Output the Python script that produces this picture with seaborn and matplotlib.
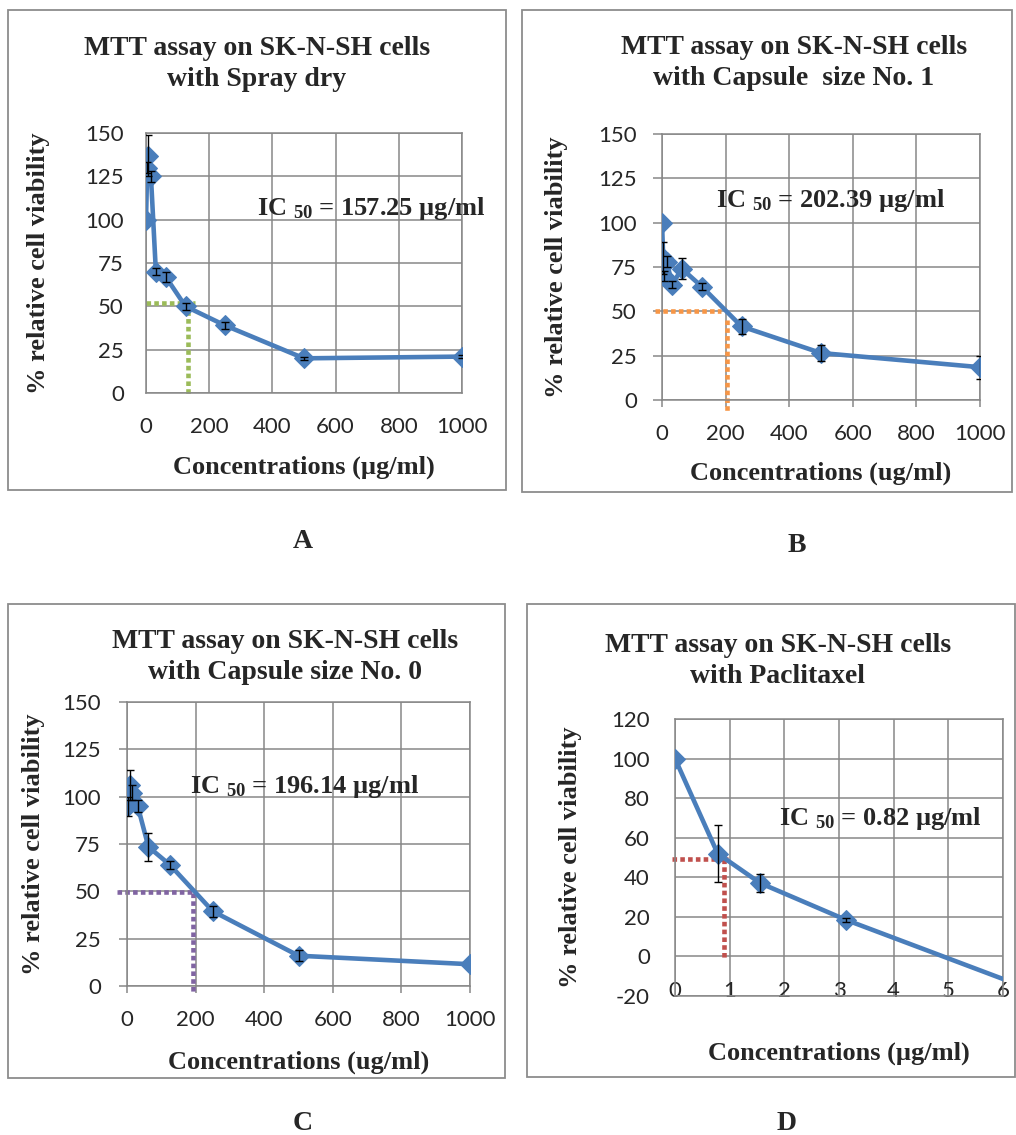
import numpy as np
import matplotlib
matplotlib.use("Agg")
import matplotlib.pyplot as plt
import seaborn as sns
from matplotlib.patches import Rectangle

W, H = 1016, 1135

# data
conc = [0, 3.9, 7.8, 15.6, 31.25, 62.5, 125, 250, 500, 1000]
spray_dry = [100, 130, 137, 125, 70, 67, 50, 39, 20, 21]
spray_dry_err = [0, 3, 12, 3, 2, 3, 2, 2, 1, 1]
capsule_1 = [100, 80, 70, 78, 65, 74, 64, 41.5, 26.5, 18.5]
capsule_1_err = [0, 9, 3, 3, 2, 6, 2, 4, 4.5, 6.5]
capsule_0 = [100, 95, 106, 102, 95, 73.5, 64, 39.5, 16, 11.5]
capsule_0_err = [0, 5, 8, 4, 3, 7.5, 2, 3, 3, 0]
conc_ptx = [0, 0.78, 1.5625, 3.125, 6.25]
paclitaxel = [100, 52, 37, 18.5, -14]
paclitaxel_err = [0, 14.5, 4.5, 1, 0]

# IC50 guide lines: (hline x0, x1, y), (vline x, y0, y1)
guide_a = [(-1, 155, 52), (134, 52, -2)]
guide_b = [(-23, 187, 50.3), (205, 45, -6)]
guide_c = [(-29, 189, 49.8), (191, 49, -4)]
guide_d = [(-0.05, 0.97, 49), (0.9, 49, -1)]

sns.set_style("white")
plt.rcParams["font.family"] = ["Lato", "DejaVu Sans"]
plt.rcParams["axes.unicode_minus"] = False
plt.rcParams["mathtext.fontset"] = "custom"
plt.rcParams["mathtext.rm"] = "Liberation Serif:bold"
plt.rcParams["mathtext.it"] = "Liberation Serif:bold"
plt.rcParams["mathtext.bf"] = "Liberation Serif:bold"

BLUE = "#4A7EBB"
GRID = "#878787"
SERIF = "Liberation Serif"

panels = [
    dict(x=conc, y=spray_dry, err=spray_dry_err, guide=guide_a, gcol="#9BBB59",
         ax=(146, 133, 462, 393), box=(8, 10, 506, 490),
         title="MTT assay on SK-N-SH cells\nwith Spray dry", tpos=(257, 64),
         xlim=(0, 1000), xticks=[0, 200, 400, 600, 800, 1000],
         ylim=(0, 150), yticks=[0, 25, 50, 75, 100, 125, 150],
         xlen=0, xpad=17, ylen=0, ypad=16,
         xlabel="Concentrations (µg/ml)", xly=467, ylx=38,
         ic="IC $_{50}$ = 157.25 µg/ml", icpos=(371, 208),
         letter="A", lpos=(303, 541)),
    dict(x=conc, y=capsule_1, err=capsule_1_err, guide=guide_b, gcol="#F79646",
         ax=(662, 134, 980, 400), box=(522, 10, 1012, 492),
         title="MTT assay on SK-N-SH cells\nwith Capsule  size No. 1", tpos=(794, 63),
         xlim=(0, 1000), xticks=[0, 200, 400, 600, 800, 1000],
         ylim=(0, 150), yticks=[0, 25, 50, 75, 100, 125, 150],
         xlen=5, xpad=12, ylen=6.5, ypad=11.5,
         xlabel="Concentrations (ug/ml)", xly=473, ylx=557,
         ic="IC $_{50}$ = 202.39 µg/ml", icpos=(831, 200),
         letter="B", lpos=(797, 545)),
    dict(x=conc, y=capsule_0, err=capsule_0_err, guide=guide_c, gcol="#8064A2",
         ax=(127, 702, 470, 986), box=(8, 604, 505, 1078),
         title="MTT assay on SK-N-SH cells\nwith Capsule size No. 0", tpos=(285, 657),
         xlim=(0, 1000), xticks=[0, 200, 400, 600, 800, 1000],
         ylim=(0, 150), yticks=[0, 25, 50, 75, 100, 125, 150],
         xlen=5, xpad=12, ylen=5.8, ypad=13,
         xlabel="Concentrations (ug/ml)", xly=1062, ylx=33,
         ic="IC $_{50}$ = 196.14 µg/ml", icpos=(305, 786),
         letter="C", lpos=(303, 1123)),
    dict(x=conc_ptx, y=paclitaxel, err=paclitaxel_err, guide=guide_d, gcol="#C0504D",
         ax=(675, 719, 1003, 996), box=(527, 604, 1015, 1077),
         title="MTT assay on SK-N-SH cells\nwith Paclitaxel", tpos=(778, 661),
         xlim=(0, 6), xticks=[0, 1, 2, 3, 4, 5, 6],
         ylim=(-20, 120), yticks=[-20, 0, 20, 40, 60, 80, 100, 120],
         xlen=0, xpad=-10.5, ylen=0, ypad=18,
         xlabel="Concentrations (µg/ml)", xly=1053, ylx=570,
         ic="IC $_{50}$ = 0.82 µg/ml", icpos=(880, 818),
         letter="D", lpos=(787, 1123)),
]

fig = plt.figure(figsize=(W / 100, H / 100), dpi=100)

for p in panels:
    l, t, r, b = p["ax"]
    ax = fig.add_axes([l / W, 1 - b / H, (r - l) / W, (b - t) / H])

    bl, bt, br, bb = p["box"]
    fig.add_artist(Rectangle((bl / W, 1 - bb / H), (br - bl) / W, (bb - bt) / H,
                             transform=fig.transFigure, fill=False,
                             ec="#8c8c8c", lw=1.3))

    # IC50 dotted guides
    (hx0, hx1, hy), (vx, vy0, vy1) = p["guide"]
    ax.plot([hx0, hx1], [hy, hy], color=p["gcol"], lw=3.3, ls=(0, (1, 0.7)),
            clip_on=False, zorder=2)
    ax.plot([vx, vx], [vy0, vy1], color=p["gcol"], lw=3.3, ls=(0, (1, 0.7)),
            clip_on=False, zorder=2)

    sns.lineplot(x=p["x"], y=p["y"], ax=ax, color=BLUE, lw=3.3, marker="D",
                 markersize=10, markeredgecolor=BLUE, errorbar=None, zorder=4)
    xs, ys, es = map(np.asarray, (p["x"], p["y"], p["err"]))
    m = es > 0
    ax.errorbar(xs[m], ys[m], yerr=es[m], fmt="none", ecolor="black",
                elinewidth=1, capsize=3, capthick=1, zorder=5)

    ax.set_xlim(*p["xlim"])
    ax.set_ylim(*p["ylim"])
    ax.set_xticks(p["xticks"])
    ax.set_yticks(p["yticks"])
    ax.grid(True, color=GRID, lw=1.1)
    ax.set_axisbelow(True)
    for s in ax.spines.values():
        s.set_color(GRID)
        s.set_linewidth(1.1)
    ax.tick_params(axis="x", length=p["xlen"], pad=p["xpad"], color=GRID,
                   width=1.1, labelsize=16, direction="out", bottom=True)
    ax.tick_params(axis="y", length=p["ylen"], pad=p["ypad"], color=GRID,
                   width=1.1, labelsize=16, direction="out", left=True)

    ax.set_xlabel(p["xlabel"], family=SERIF, weight="bold", fontsize=19)
    ax.xaxis.set_label_coords(0.5, (b - p["xly"]) / (b - t))
    ax.xaxis.label.set_va("center")
    ax.set_ylabel("% relative cell viability", family=SERIF, weight="bold",
                  fontsize=19)
    ax.yaxis.set_label_coords((p["ylx"] - l) / (r - l), 0.5)
    ax.yaxis.label.set_va("center")

    tx, ty = p["tpos"]
    fig.text(tx / W, 1 - ty / H, p["title"], ha="center", va="center",
             family=SERIF, weight="bold", fontsize=20, linespacing=1.3)
    ix, iy = p["icpos"]
    fig.text(ix / W, 1 - iy / H, p["ic"], ha="center", va="center",
             family=SERIF, weight="bold", fontsize=19)
    lx, ly = p["lpos"]
    fig.text(lx / W, 1 - ly / H, p["letter"], ha="center", va="center",
             family=SERIF, weight="bold", fontsize=20)

fig.savefig("out.png", dpi=100)
